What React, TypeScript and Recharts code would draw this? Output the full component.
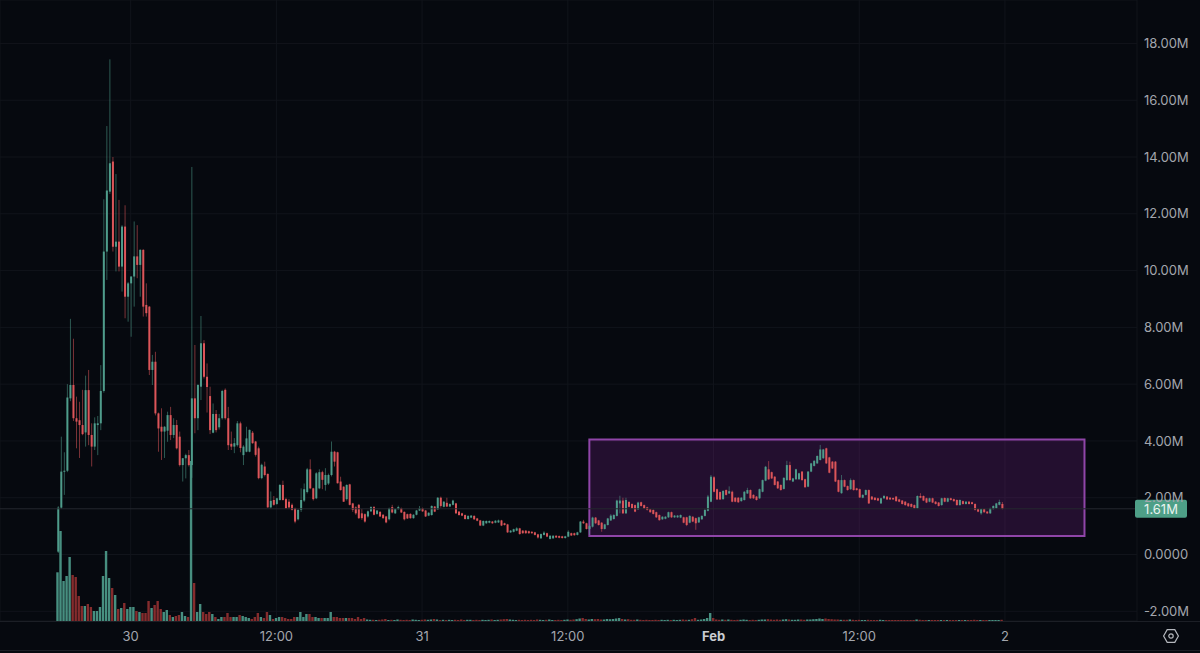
// 15 minute candlestick chart with volume and a highlighted range box
import {
  ComposedChart,
  Bar,
  XAxis,
  YAxis,
  CartesianGrid,
  ReferenceArea,
  ReferenceLine,
} from 'recharts';

// prices in millions, one entry per 15 minute candle
const opens = [
  0.1, 1.65, 2.92, 2.95, 5.5, 5.97, 4.8, 4.73, 4.56, 4.3,
  5.79, 4.21, 3.8, 4.56, 4.62, 5.76, 10.67, 12.78, 13.84, 10.84,
  11.02, 10.14, 11.55, 9.08, 9.55, 9.79, 10.5, 10.2, 10.73, 8.79,
  8.73, 6.5, 6.79, 4.97, 4.5, 4.33, 4.36, 4.91, 4.21, 4.56,
  4.15, 3.15, 3.39, 3.5, 3.15, 5.5, 4.8, 5.91, 7.44, 6.26,
  5.58, 4.29, 4.95, 4.48, 4.8, 5.8, 4.8, 3.9, 3.8, 3.85,
  4.62, 3.5, 3.62, 3.62, 4.29, 3.98, 3.74, 2.69, 3.1, 2.84,
  1.66, 1.92, 1.78, 1.92, 2.45, 1.95, 1.86, 1.75, 1.63, 1.24,
  1.57, 1.9, 2.2, 3.0, 2.33, 1.98, 2.33, 2.9, 2.45, 2.5,
  2.8, 3.62, 3.6, 2.57, 2.39, 1.95, 2.47, 1.8, 1.66, 1.75,
  1.45, 1.42, 1.34, 1.52, 1.67, 1.43, 1.5, 1.4, 1.34, 1.24,
  1.67, 1.45, 1.6, 1.63, 1.5, 1.42, 1.43, 1.28, 1.4, 1.55,
  1.63, 1.55, 1.37, 1.39, 1.69, 1.59, 2.0, 1.68, 1.82, 1.69,
  1.75, 1.8, 1.51, 1.45, 1.39, 1.25, 1.3, 1.36, 1.27, 1.2,
  1.02, 1.1, 1.12, 1.16, 1.12, 1.13, 1.2, 1.1, 1.06, 0.78,
  0.8, 0.84, 0.92, 0.84, 0.84, 0.82, 0.8, 0.78, 0.71, 0.57,
  0.69, 0.75, 0.55, 0.57, 0.66, 0.65, 0.64, 0.58, 0.63, 0.75,
  0.75, 0.69, 0.78, 1.16, 1.1, 0.9, 0.98, 1.3, 1.2, 1.12,
  0.9, 1.04, 1.2, 1.25, 1.36, 1.8, 1.9, 1.45, 1.85, 1.78,
  1.74, 1.59, 1.84, 1.74, 1.66, 1.59, 1.57, 1.49, 1.39, 1.24,
  1.26, 1.31, 1.49, 1.31, 1.31, 1.3, 1.31, 1.31, 1.12, 1.33,
  1.28, 1.13, 1.24, 1.36, 1.54, 1.86, 2.72, 2.3, 2.2, 1.95,
  2.27, 2.15, 2.21, 2.0, 2.0, 1.88, 1.92, 2.15, 2.27, 2.1,
  2.04, 1.98, 2.21, 2.6, 3.0, 2.9, 2.74, 2.57, 2.45, 2.31,
  2.62, 3.15, 2.57, 2.65, 2.65, 2.92, 2.65, 2.39, 2.92, 3.12,
  3.21, 3.33, 3.39, 3.74, 3.42, 3.27, 3.27, 2.62, 2.16, 2.62,
  2.41, 2.3, 2.62, 2.33, 2.3, 2.0, 2.1, 2.27, 2.04, 2.0,
  1.98, 1.8, 1.98, 2.04, 2.0, 1.99, 2.04, 1.94, 1.9, 1.86,
  1.8, 1.78, 1.74, 1.63, 2.06, 2.06, 1.98, 1.86, 1.98, 1.86,
  1.83, 1.74, 1.99, 1.86, 1.98, 1.95, 1.92, 1.74, 1.88, 1.78,
  1.86, 1.84, 1.78, 1.6, 1.45, 1.6, 1.51, 1.45, 1.6, 1.63,
  1.75, 1.78,
];

const closes = [
  1.65, 2.92, 2.95, 5.53, 5.97, 4.8, 4.68, 4.56, 4.24, 5.79,
  4.21, 3.8, 4.62, 4.62, 5.76, 10.67, 12.82, 13.78, 10.84, 11.02,
  10.14, 11.55, 9.08, 9.55, 9.79, 10.5, 10.2, 10.73, 8.73, 8.5,
  6.5, 6.79, 4.97, 4.44, 4.33, 4.5, 4.91, 4.21, 4.56, 3.74,
  3.15, 3.39, 3.5, 3.15, 5.5, 4.8, 5.97, 7.44, 6.26, 5.9,
  4.38, 4.95, 4.38, 4.8, 5.76, 4.8, 3.85, 3.8, 3.92, 4.62,
  3.75, 3.8, 4.09, 4.39, 3.92, 3.51, 2.69, 3.16, 2.8, 1.66,
  1.89, 1.75, 1.98, 2.45, 1.92, 1.63, 1.66, 1.57, 1.16, 1.57,
  1.92, 2.3, 3.0, 2.33, 1.95, 2.86, 2.9, 2.63, 2.8, 2.8,
  3.62, 3.27, 2.51, 2.27, 1.86, 2.45, 1.75, 1.57, 1.45, 1.28,
  1.28, 1.16, 1.52, 1.67, 1.4, 1.55, 1.34, 1.28, 1.13, 1.63,
  1.48, 1.6, 1.67, 1.48, 1.24, 1.27, 1.28, 1.4, 1.55, 1.63,
  1.52, 1.34, 1.47, 1.71, 1.51, 2.0, 1.71, 1.86, 1.69, 1.78,
  1.9, 1.45, 1.39, 1.37, 1.25, 1.36, 1.37, 1.24, 1.19, 1.02,
  1.18, 1.18, 1.18, 1.1, 1.19, 1.2, 1.02, 1.04, 0.78, 0.84,
  0.89, 0.92, 0.72, 0.75, 0.75, 0.75, 0.75, 0.69, 0.6, 0.72,
  0.77, 0.63, 0.66, 0.66, 0.6, 0.59, 0.58, 0.64, 0.8, 0.67,
  0.68, 0.78, 1.16, 1.1, 0.9, 1.0, 1.3, 1.1, 1.04, 0.9,
  1.06, 1.27, 1.37, 1.39, 1.9, 1.9, 1.45, 1.92, 1.68, 1.63,
  1.51, 1.83, 1.71, 1.62, 1.57, 1.49, 1.43, 1.31, 1.21, 1.33,
  1.33, 1.49, 1.31, 1.37, 1.37, 1.39, 1.12, 1.04, 1.36, 1.16,
  1.1, 1.31, 1.36, 1.57, 2.04, 2.74, 2.21, 1.94, 1.94, 2.24,
  2.1, 2.23, 1.86, 1.86, 1.84, 2.0, 2.21, 2.27, 1.98, 1.98,
  1.92, 2.3, 2.62, 3.09, 2.65, 2.68, 2.45, 2.33, 2.27, 2.7,
  3.15, 2.62, 2.68, 3.0, 2.86, 2.62, 2.37, 2.92, 3.21, 3.3,
  3.47, 3.7, 3.7, 3.21, 2.88, 3.03, 2.57, 2.21, 2.62, 2.39,
  2.27, 2.62, 2.27, 2.27, 2.01, 2.1, 2.27, 1.8, 1.94, 1.92,
  1.9, 1.98, 2.06, 1.94, 1.94, 1.94, 1.88, 1.86, 1.78, 1.74,
  1.7, 1.68, 1.63, 2.06, 2.0, 1.9, 1.83, 1.98, 1.83, 1.78,
  1.71, 1.98, 1.86, 1.98, 1.92, 1.88, 1.74, 1.92, 1.78, 1.86,
  1.78, 1.78, 1.57, 1.51, 1.6, 1.49, 1.45, 1.63, 1.71, 1.8,
  1.85, 1.61,
];

const highs = [
  1.7, 4.15, 3.6, 6.0, 8.3, 7.6, 5.56, 5.38, 5.8, 6.3,
  6.5, 4.62, 4.83, 4.88, 6.67, 12.51, 15.09, 17.44, 14.0, 13.4,
  12.49, 11.6, 12.3, 9.6, 9.8, 11.73, 11.6, 10.75, 10.75, 9.55,
  8.75, 7.03, 7.14, 5.0, 5.15, 4.52, 5.03, 5.2, 4.8, 4.74,
  4.33, 3.4, 3.55, 3.68, 13.65, 7.38, 6.0, 8.4, 7.55, 6.73,
  5.91, 5.32, 5.09, 4.95, 5.8, 5.85, 5.2, 4.33, 4.1, 4.7,
  4.68, 3.85, 4.5, 4.4, 4.35, 4.0, 3.8, 3.2, 3.27, 2.85,
  2.22, 2.06, 2.0, 2.48, 2.6, 2.0, 1.95, 1.8, 1.65, 1.6,
  2.33, 2.5, 3.05, 3.35, 2.35, 2.9, 3.0, 2.95, 3.04, 2.85,
  3.98, 3.65, 3.62, 2.74, 2.4, 2.47, 2.49, 1.82, 1.7, 1.78,
  1.6, 1.45, 1.55, 1.7, 1.71, 1.56, 1.53, 1.42, 1.36, 1.65,
  1.75, 1.62, 1.72, 1.65, 1.52, 1.44, 1.45, 1.42, 1.57, 1.71,
  1.65, 1.57, 1.49, 1.73, 1.71, 2.02, 2.04, 1.88, 2.0, 1.8,
  1.93, 1.82, 1.53, 1.47, 1.41, 1.38, 1.39, 1.38, 1.29, 1.22,
  1.2, 1.2, 1.2, 1.18, 1.21, 1.23, 1.22, 1.12, 1.08, 0.86,
  0.91, 0.96, 0.94, 0.86, 0.86, 0.84, 0.82, 0.8, 0.73, 0.74,
  0.82, 0.77, 0.68, 0.68, 0.68, 0.67, 0.66, 0.66, 0.85, 0.77,
  0.77, 0.8, 1.18, 1.22, 1.12, 1.05, 1.33, 1.32, 1.22, 1.14,
  1.08, 1.29, 1.42, 1.42, 1.93, 2.07, 2.0, 2.0, 1.88, 1.8,
  1.76, 1.86, 1.86, 1.76, 1.68, 1.61, 1.59, 1.51, 1.41, 1.35,
  1.35, 1.51, 1.51, 1.39, 1.39, 1.41, 1.33, 1.33, 1.38, 1.35,
  1.3, 1.33, 1.38, 1.62, 2.1, 2.8, 2.76, 2.32, 2.22, 2.26,
  2.29, 2.4, 2.25, 2.02, 2.02, 2.02, 2.23, 2.35, 2.29, 2.12,
  2.06, 2.32, 2.64, 3.12, 3.29, 2.92, 2.76, 2.59, 2.47, 2.72,
  3.3, 3.27, 2.7, 3.02, 2.88, 2.94, 2.67, 2.94, 3.23, 3.32,
  3.49, 3.86, 3.72, 3.76, 3.44, 3.29, 3.29, 2.64, 2.8, 2.64,
  2.43, 2.68, 2.64, 2.35, 2.32, 2.12, 2.29, 2.29, 2.06, 2.02,
  2.0, 2.0, 2.1, 2.06, 2.02, 2.01, 2.06, 1.96, 1.92, 1.88,
  1.82, 1.8, 1.76, 2.08, 2.16, 2.08, 2.0, 2.0, 2.0, 1.88,
  1.85, 2.0, 2.01, 2.0, 2.0, 1.97, 1.94, 1.94, 1.9, 1.88,
  1.88, 1.86, 1.8, 1.62, 1.62, 1.62, 1.53, 1.65, 1.73, 1.82,
  1.93, 1.85,
];

const lows = [
  0.05, 1.6, 2.1, 2.9, 5.4, 4.7, 3.74, 3.4, 4.2, 3.8,
  3.85, 3.1, 3.68, 3.5, 4.38, 5.7, 9.67, 12.7, 10.67, 9.97,
  9.97, 9.26, 8.32, 8.2, 7.67, 8.73, 9.73, 9.08, 8.38, 8.38,
  6.32, 5.97, 4.9, 3.62, 3.33, 3.4, 3.97, 4.03, 4.1, 3.7,
  3.1, 2.57, 2.68, 3.1, 2.7, 4.27, 4.38, 5.44, 6.2, 5.0,
  4.24, 4.27, 4.3, 4.4, 4.75, 4.75, 3.68, 3.68, 3.57, 3.8,
  3.6, 3.15, 3.6, 3.6, 3.9, 3.45, 2.65, 2.65, 2.75, 1.65,
  1.62, 1.72, 1.75, 1.9, 1.9, 1.6, 1.6, 1.55, 1.1, 1.2,
  1.5, 1.85, 2.15, 2.3, 1.9, 1.95, 2.3, 2.3, 2.25, 2.45,
  2.75, 3.1, 2.5, 2.25, 1.85, 1.9, 1.73, 1.5, 1.4, 1.25,
  1.22, 1.12, 1.3, 1.5, 1.38, 1.4, 1.32, 1.26, 1.1, 1.2,
  1.45, 1.43, 1.58, 1.46, 1.2, 1.25, 1.26, 1.26, 1.38, 1.53,
  1.5, 1.32, 1.35, 1.37, 1.49, 1.57, 1.65, 1.66, 1.67, 1.67,
  1.73, 1.43, 1.37, 1.35, 1.23, 1.23, 1.28, 1.22, 1.17, 1.0,
  1.0, 1.08, 1.1, 1.08, 1.1, 1.11, 1.0, 1.02, 0.76, 0.76,
  0.78, 0.82, 0.7, 0.73, 0.73, 0.73, 0.73, 0.67, 0.56, 0.55,
  0.67, 0.61, 0.53, 0.55, 0.58, 0.57, 0.56, 0.56, 0.61, 0.65,
  0.66, 0.67, 0.76, 1.08, 0.88, 0.7, 0.95, 1.08, 1.02, 0.8,
  0.88, 1.02, 1.18, 1.23, 1.34, 1.45, 1.43, 1.43, 1.66, 1.61,
  1.49, 1.57, 1.69, 1.6, 1.55, 1.47, 1.41, 1.29, 1.19, 1.22,
  1.24, 1.29, 1.29, 1.29, 1.29, 1.28, 1.1, 1.0, 1.1, 1.14,
  0.87, 1.11, 1.22, 1.34, 1.52, 1.84, 2.19, 1.92, 1.92, 1.93,
  2.08, 2.13, 1.84, 1.84, 1.82, 1.86, 1.9, 2.13, 1.96, 1.96,
  1.9, 1.96, 2.19, 2.58, 2.63, 2.66, 2.43, 2.31, 2.25, 2.29,
  2.6, 2.6, 2.55, 2.63, 2.63, 2.6, 2.35, 2.37, 2.9, 3.1,
  3.19, 3.31, 3.37, 3.19, 2.86, 3.01, 2.55, 2.19, 2.14, 2.37,
  2.25, 2.28, 2.25, 2.25, 1.99, 1.98, 2.08, 1.78, 1.92, 1.9,
  1.88, 1.78, 1.96, 1.92, 1.92, 1.92, 1.86, 1.84, 1.76, 1.72,
  1.68, 1.66, 1.61, 1.61, 1.98, 1.88, 1.81, 1.84, 1.81, 1.76,
  1.69, 1.72, 1.84, 1.84, 1.9, 1.86, 1.72, 1.72, 1.76, 1.76,
  1.76, 1.76, 1.55, 1.49, 1.4, 1.47, 1.43, 1.43, 1.58, 1.61,
  1.73, 1.59,
];

// volume in thousands
const volumes = [
  487, 900, 400, 450, 640, 460, 440, 250, 150, 150,
  170, 140, 100, 100, 140, 450, 700, 430, 330, 260,
  120, 130, 180, 120, 140, 140, 100, 90, 80, 80,
  200, 130, 160, 200, 120, 90, 110, 60, 40, 50,
  60, 90, 50, 40, 1600, 380, 90, 170, 90, 70,
  90, 70, 40, 20, 40, 40, 80, 40, 40, 40,
  60, 50, 40, 30, 20, 40, 80, 40, 30, 90,
  60, 20, 30, 40, 40, 30, 20, 20, 40, 40,
  90, 40, 70, 70, 40, 40, 30, 30, 30, 30,
  90, 40, 40, 30, 30, 30, 30, 30, 20, 40,
  20, 30, 15, 12, 12, 10, 12, 15, 20, 10,
  12, 10, 15, 12, 10, 12, 10, 15, 12, 10,
  12, 15, 12, 15, 20, 15, 10, 12, 10, 12,
  10, 12, 10, 15, 10, 12, 12, 10, 12, 10,
  12, 10, 12, 15, 10, 12, 15, 18, 20, 15,
  12, 10, 12, 10, 12, 10, 12, 10, 15, 12,
  10, 12, 15, 10, 10, 12, 10, 12, 15, 12,
  15, 18, 25, 30, 20, 15, 20, 18, 20, 15,
  15, 20, 18, 20, 25, 30, 20, 15, 18, 12,
  12, 15, 12, 10, 12, 10, 10, 12, 10, 12,
  10, 12, 10, 12, 10, 12, 15, 12, 12, 18,
  30, 12, 15, 20, 30, 80, 30, 15, 12, 15,
  12, 15, 12, 10, 12, 12, 15, 12, 10, 12,
  10, 12, 15, 15, 18, 15, 12, 15, 12, 15,
  18, 15, 12, 12, 15, 15, 12, 15, 15, 18,
  20, 25, 20, 25, 20, 18, 15, 15, 12, 12,
  12, 15, 12, 10, 12, 10, 10, 12, 10, 10,
  10, 12, 10, 10, 10, 10, 10, 10, 10, 10,
  10, 10, 10, 15, 12, 10, 10, 10, 10, 10,
  10, 10, 10, 10, 10, 10, 10, 10, 10, 10,
  10, 10, 12, 10, 10, 10, 10, 10, 10, 10,
  10, 12,
];

const xTicks = [24, 72, 120, 168, 216, 264, 312];
const xTickLabels = ['30', '12:00', '31', '12:00', 'Feb', '12:00', '2'];
const yTicks = [-2, 0, 2, 4, 6, 8, 10, 12, 14, 16, 18];
const lastPrice = 1.61;
const rangeBox = { start: 175.1, end: 338.2, low: 0.65, high: 4.05 };

const chartData = opens.map((open, i) => ({
  index: i,
  open,
  close: closes[i],
  range: [lows[i], highs[i]],
  volume: volumes[i],
}));

const UP = '#4f9c8b';
const DOWN = '#dc5559';
const UP_VOLUME = '#478f80';
const DOWN_VOLUME = '#852c2d';

function CandleShape({ x, y, width, height, payload }: any) {
  const low = payload.range[0];
  const high = payload.range[1];
  const h = Math.abs(height);
  const perUnit = h / (high - low);
  const up = payload.close >= payload.open;
  const color = up ? UP : DOWN;
  const top = y + (high - Math.max(payload.open, payload.close)) * perUnit;
  const bodyH = Math.max(Math.abs(payload.open - payload.close) * perUnit, 1);
  const cx = x + width / 2;
  return (
    <g>
      <line x1={cx} x2={cx} y1={y} y2={y + h} stroke={color} strokeWidth={1} strokeOpacity={0.55} />
      <rect x={x} y={top} width={width} height={bodyH} fill={color} />
    </g>
  );
}

function VolumeShape({ x, y, width, height, payload }: any) {
  const color = payload.close >= payload.open ? UP_VOLUME : DOWN_VOLUME;
  return <rect x={x} y={y} width={width} height={height} fill={color} />;
}

function TimeTick({ x, y, payload }: any) {
  const label = xTickLabels[xTicks.indexOf(payload.value)];
  return (
    <text
      x={x}
      y={y}
      dy={6}
      textAnchor="middle"
      fill={label === 'Feb' ? '#c9ccd2' : '#a3a6ad'}
      fontSize={13}
      fontWeight={label === 'Feb' ? 700 : 400}
      fontFamily="Inter, sans-serif"
    >
      {label}
    </text>
  );
}

function PriceBadge({ viewBox }: any) {
  const right = viewBox.x + viewBox.width;
  return (
    <g>
      <rect x={right - 2} y={viewBox.y - 9} width={52} height={18} rx={2} fill="#4e9f87" />
      <text
        x={right + 24}
        y={viewBox.y + 5}
        textAnchor="middle"
        fill="#e8f3ef"
        fontSize={13}
        fontFamily="Inter, sans-serif"
      >
        {lastPrice.toFixed(2)}M
      </text>
    </g>
  );
}

function formatPrice(v: number) {
  return v === 0 ? '0.0000' : `${v.toFixed(2)}M`;
}

export default function App() {
  return (
    <div style={{ position: 'absolute', left: 0, top: 0, width: 1200, height: 653, background: '#06090f', overflow: 'hidden' }}>
      <ComposedChart width={1200} height={653} data={chartData} margin={{ top: 0, right: 0, bottom: 0, left: 0 }}>
        <CartesianGrid xAxisId="price" yAxisId="price" stroke="#11141b" strokeWidth={1} />
        <XAxis
          xAxisId="price"
          dataKey="index"
          type="number"
          domain={[-19.04, 355.5]}
          allowDataOverflow
          ticks={xTicks}
          interval={0}
          height={32}
          axisLine={false}
          tickLine={false}
          tick={<TimeTick />}
          tickMargin={8}
        />
        <XAxis xAxisId="volume" dataKey="index" type="number" domain={[-19.04, 355.5]} allowDataOverflow hide />
        <YAxis
          yAxisId="price"
          orientation="right"
          domain={[-2.342, 19.53]}
          allowDataOverflow
          ticks={yTicks}
          interval={0}
          width={63}
          axisLine={false}
          tickLine={false}
          tickSize={0}
          tickMargin={7}
          tickFormatter={formatPrice}
          tick={{ fill: '#a3a6ad', fontSize: 13, fontFamily: 'Inter, sans-serif' }}
        />
        <YAxis yAxisId="volume" orientation="left" domain={[0, 6210]} allowDataOverflow hide />
        <Bar xAxisId="volume" yAxisId="volume" dataKey="volume" barSize={2.4} shape={<VolumeShape />} isAnimationActive={false} />
        <Bar xAxisId="price" yAxisId="price" dataKey="range" barSize={2} shape={<CandleShape />} isAnimationActive={false} />
        <ReferenceArea
          xAxisId="price"
          yAxisId="price"
          x1={rangeBox.start}
          x2={rangeBox.end}
          y1={rangeBox.low}
          y2={rangeBox.high}
          fill="#9c27b0"
          fillOpacity={0.2}
          stroke="#8f45a8"
          strokeWidth={2}
        />
        <ReferenceLine xAxisId="price" yAxisId="price" y={lastPrice} stroke="#25282f" label={<PriceBadge />} />
      </ComposedChart>
      <div style={{ position: 'absolute', left: 0, top: 621, width: 1200, height: 1, background: '#1c1f26' }} />
      <div style={{ position: 'absolute', left: 0, top: 650, width: 1200, height: 1, background: '#1c1f26' }} />
      <svg style={{ position: 'absolute', left: 1162, top: 627 }} width={18} height={18} viewBox="0 0 18 18">
        <path d="M5.2 2.6 H12.8 L16.4 9 L12.8 15.4 H5.2 L1.6 9 Z" fill="none" stroke="#b4b7bd" strokeWidth={1.2} />
        <circle cx={9} cy={9} r={2.2} fill="none" stroke="#b4b7bd" strokeWidth={1.2} />
      </svg>
    </div>
  );
}
